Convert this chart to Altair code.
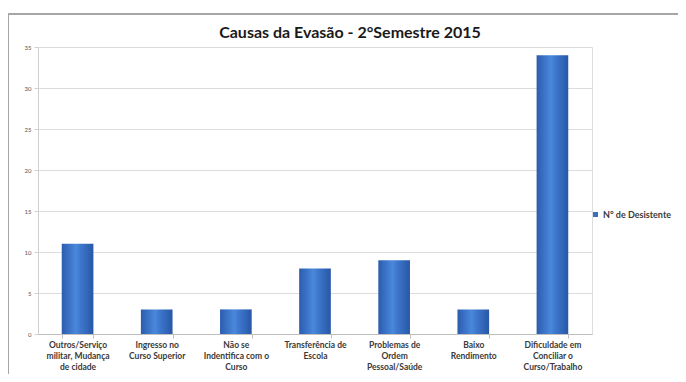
import altair as alt
import pandas as pd

categories = [
    "Outros/Serviço|militar, Mudança|de cidade",
    "Ingresso no|Curso Superior",
    "Não se|Indentifica com o|Curso",
    "Transferência de|Escola",
    "Problemas de|Ordem|Pessoal/Saúde",
    "Baixo|Rendimento",
    "Dificuldade em|Conciliar o|Curso/Trabalho",
]
values = [11, 3, 3, 8, 9, 3, 34]
series_name = "N° de Desistente"
y_ticks = [0, 5, 10, 15, 20, 25, 30, 35]
title_text = "Causas da Evasão - 2°Semestre 2015"

df = pd.DataFrame({"cat": categories, "val": values, "serie": series_name})
title_df = pd.DataFrame({"t": [title_text]})

FONT = "Lato"
W, H = 554, 287

x_enc = alt.X(
    "cat:N", sort=None, title=None,
    scale=alt.Scale(paddingInner=0.6, paddingOuter=0.3),
    axis=alt.Axis(
        labelExpr="split(datum.label, '|')", labelAngle=0, labelFontSize=8.5,
        labelFont=FONT, labelFontWeight="bold", labelColor="#3a3a3a",
        labelLineHeight=11, labelPadding=2, labelBaseline="top",
        domainColor="#bfbfbf", tickColor="#bfbfbf", tickBand="extent", tickSize=4,
        labelLimit=120,
    ),
)
y_enc = alt.Y(
    "val:Q", title=None,
    scale=alt.Scale(domain=[0, 35], nice=False),
    axis=alt.Axis(
        values=y_ticks, labelFontSize=6, labelFont=FONT, labelColor="#555555",
        gridColor="#dcdcdc", domainColor="#d0d0d0", tickColor="#d0d0d0",
        tickSize=4, labelPadding=3,
    ),
)

grad = alt.Gradient(
    gradient="linear",
    stops=[
        alt.GradientStop(color="#2b5cae", offset=0),
        alt.GradientStop(color="#4a88dc", offset=0.45),
        alt.GradientStop(color="#3d77cc", offset=0.6),
        alt.GradientStop(color="#2857a6", offset=1),
    ],
    x1=0, x2=1, y1=0, y2=0,
)

bars = alt.Chart(df).mark_bar(fill=grad).encode(x=x_enc, y=y_enc)

legend_layer = alt.Chart(df).mark_bar(opacity=0).encode(
    x=x_enc, y=y_enc,
    color=alt.Color(
        "serie:N", scale=alt.Scale(range=["#3a70c4"]),
        legend=alt.Legend(
            title=None, orient="none", legendX=W - 1, legendY=163,
            labelFont=FONT, labelFontSize=9, labelFontWeight="bold",
            labelColor="#3a3a3a", symbolType="square", symbolSize=25,
            symbolOpacity=1, labelOffset=3, labelLimit=200,
        ),
    ),
)

frame = alt.Chart(df).mark_rect(
    fill=None, stroke="#a6a6a6", strokeWidth=1.5, clip=False
).encode(
    x=alt.value(-30), x2=alt.value(W + 200),
    y=alt.value(-33), y2=alt.value(H + 200),
)

title = alt.Chart(title_df).mark_text(
    font=FONT, fontSize=16, fontWeight="bold", color="#1a1a1a",
    align="center", baseline="middle", clip=False,
).encode(text="t:N", x=alt.value(312), y=alt.value(-14))

chart = alt.layer(frame, legend_layer, bars, title).properties(
    width=W, height=H,
    autosize=alt.AutoSizeParams(type="none"),
    padding={"left": 30, "top": 39, "right": 86, "bottom": 40},
).configure_view(stroke=None).configure(background="white")

chart.save("out.html", embed_options={"renderer": "svg", "actions": False})
